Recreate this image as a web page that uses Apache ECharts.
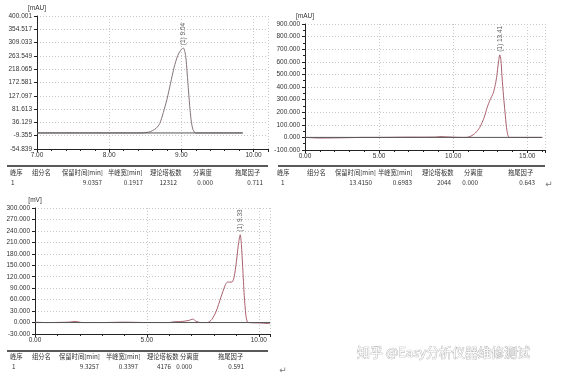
<!DOCTYPE html>
<html><head><meta charset="utf-8">
<script src="https://cdn.jsdelivr.net/npm/echarts@6/dist/echarts.min.js"></script>
<style>html,body{margin:0;padding:0;background:#fff}#c{width:568px;height:379px}</style>
</head><body><div id="c"></div>
<script>
// ---------- data ----------
const y1Ticks = [-54.839,-9.355,36.129,81.613,127.097,172.581,218.065,263.549,309.033,354.517,400.001];
const curve1 = [[7,0],[8.45,0],[8.5,1],[8.55,3],[8.6,8],[8.65,16],[8.7,32],[8.75,70],[8.8,115],[8.85,170],[8.9,225],[8.95,265],[9.0,286],[9.03,290],[9.06,262],[9.08,205],[9.1,140],[9.12,80],[9.14,35],[9.16,12],[9.18,3],[9.2,0],[9.85,0]];
const base1 = [[7,0],[9.85,0]];
const peak1 = [[9.03,290]];

const curve2 = [[0,0],[0.5,-3],[1,-5],[2,-4],[3,-2],[4,0],[5,0],[6,1],[7,2],[8,2],[8.8,3],[9.1,6],[9.4,5],[10,2],[10.5,0],[10.9,0],[11.2,10],[11.5,35],[11.8,80],[12.1,160],[12.3,240],[12.5,300],[12.7,350],[12.85,420],[12.95,490],[13.05,590],[13.15,655],[13.22,620],[13.3,480],[13.4,330],[13.5,200],[13.6,80],[13.7,15],[13.8,0],[16,0]];
const base2 = [[0,0],[16,0]];
const peak2 = [[13.15,655]];

const curve3 = [[0,1],[0.5,0],[1.5,1],[1.8,3],[2.1,0],[3,0],[4,1],[5,0],[6,0],[6.2,2],[6.6,3],[6.9,6],[7.05,9],[7.2,3],[7.4,0],[7.7,0],[7.9,8],[8.1,30],[8.3,65],[8.5,98],[8.6,106],[8.8,106],[8.9,120],[9.0,160],[9.1,210],[9.17,230],[9.22,205],[9.28,145],[9.35,70],[9.42,20],[9.48,3],[9.55,0],[10,-1],[10.5,-3]];
const base3 = [[0,0],[10.5,0]];
const peak3 = [[9.17,230]];

const peakLabels = ['(1) 9.04','(1) 13.41','(1) 9.33'];
const yUnits = ['[mAU]','[mAU]','[mV]'];

const headers = ['峰序','组分名','保留时间[min]','半峰宽[min]','理论塔板数','分离度','拖尾因子'];
const row1 = ['1','','9.0357','0.1917','12312','0.000','0.711'];
const row2 = ['1','','13.4150','0.6983','2044','0.000','0.643'];
const row3 = ['1','','9.3257','0.3397','4176','0.000','0.591'];
const watermark = '知乎 @Easy分析仪器维修测试';

// ---------- layout ----------
const tables = [
  {row:row1, line:[7,268,166], hy:173, dy:183, hx:[10,32,62,108,150,193,235], dx:[11,0,102,143,177,213,263], ret:null},
  {row:row2, line:[278,545,166], hy:173, dy:183, hx:[277,307,335,378,422,464,508], dx:[281,0,372,412,451,478,535], ret:[549,185]},
  {row:row3, line:[7,268,351], hy:357, dy:367, hx:[10,32,59,106,147,180,218], dx:[12,0,99,138,171,192,244], ret:[283,371]}
];

const labFont = 'Liberation Sans';
const axisCol = '#222';
const tblFont = '6.3px "Noto Sans CJK SC"';
function xAx(i, min, max, interval){
  return {type:'value', gridIndex:i, min, max, interval,
    axisLine:{onZero:false, lineStyle:{color:axisCol,width:1}},
    axisTick:{show:true, length:3, lineStyle:{color:axisCol}},
    minorTick:{show:true, splitNumber:5, length:2, lineStyle:{color:axisCol}},
    axisLabel:{fontSize:6.5, color:'#333', fontFamily:labFont, margin:3, formatter:v=>v.toFixed(2), showMaxLabel:false},
    splitLine:{show:true, lineStyle:{color:'#c8c8c8', type:[1,2], width:1}}};
}
function yAx(i, min, max, extra, unit){
  return Object.assign({type:'value', gridIndex:i, min, max,
    name:unit, nameLocation:'end', nameGap:4, nameTextStyle:{fontSize:6.5, color:'#333', fontFamily:labFont, align:'center', padding:[0,0,0,0]},
    axisLine:{show:true, lineStyle:{color:axisCol,width:1}},
    axisTick:{show:true, length:3, lineStyle:{color:axisCol}},
    axisLabel:{fontSize:6.5, color:'#333', fontFamily:labFont, margin:5, formatter:v=>v.toFixed(3)},
    splitLine:{show:true, lineStyle:{color:'#c8c8c8', type:[1,2], width:1}}}, extra);
}
const curveCol = '#a9606e';
function series(i, curve, base, peak, lbl, col){
  return [
    {type:'line', xAxisIndex:i, yAxisIndex:i, data:curve, showSymbol:false, smooth:0.25, lineStyle:{color:col,width:1}, silent:true, z:2},
    {type:'line', xAxisIndex:i, yAxisIndex:i, data:base, showSymbol:false, lineStyle:{color:'#555',width:1}, silent:true, z:3},
    {type:'scatter', xAxisIndex:i, yAxisIndex:i, data:peak, symbolSize:0, silent:true,
     label:{show:true, position:'top', distance:3, rotate:90, align:'left', verticalAlign:'middle', formatter:lbl, fontSize:6.5, color:'#333', fontFamily:labFont}}
  ];
}

const graphic = [];
tables.forEach(t=>{
  graphic.push({type:'line', shape:{x1:t.line[0],y1:t.line[2],x2:t.line[1],y2:t.line[2]}, style:{stroke:'#222',lineWidth:1.5}});
  headers.forEach((h,k)=>graphic.push({type:'text', x:t.hx[k], y:t.hy, style:{text:h, font:tblFont, fill:'#333', align:'left', verticalAlign:'middle'}}));
  t.row.forEach((v,k)=>{ if(!v) return; graphic.push({type:'text', x:t.dx[k], y:t.dy, style:{text:v, font:tblFont, fill:'#333', align:k===0?'left':'right', verticalAlign:'middle'}}); });
  if(t.ret) graphic.push({type:'text', x:t.ret[0], y:t.ret[1], style:{text:'↵', font:'9px "DejaVu Sans"', fill:'#777', align:'center', verticalAlign:'middle'}});
});
graphic.push({type:'text', x:357, y:352, style:{text:watermark, font:'13px "Noto Sans CJK SC"', fill:'#fafafa', stroke:'#a8a8a8', lineWidth:0.7, align:'left', verticalAlign:'middle'}});

const chart = echarts.init(document.getElementById('c'), null, {renderer:'canvas'});
chart.setOption({
  animation:false,
  backgroundColor:'#fff',
  grid:[
    {left:37, top:16, width:231, height:133},
    {left:305, top:24, width:240, height:126},
    {left:35, top:208, width:235, height:126}
  ],
  xAxis:[xAx(0,7,10.2,1), xAx(1,0,16.2,5), xAx(2,0,10.5,5)],
  yAxis:[
    yAx(0,-54.839,400.001,{axisTick:{show:true,length:3,lineStyle:{color:axisCol},customValues:y1Ticks}, axisLabel:{fontSize:6.5,color:'#333',fontFamily:labFont,margin:5,customValues:y1Ticks,formatter:v=>v.toFixed(3)}}, yUnits[0]),
    yAx(1,-100,900,{interval:100, minorTick:{show:true,splitNumber:2,length:2,lineStyle:{color:axisCol}}}, yUnits[1]),
    yAx(2,-30,300,{interval:30}, yUnits[2])
  ],
  series:[
    ...series(0,curve1,base1,peak1,peakLabels[0],'#857479'),
    ...series(1,curve2,base2,peak2,peakLabels[1],curveCol),
    ...series(2,curve3,base3,peak3,peakLabels[2],curveCol)
  ],
  graphic
});
</script></body></html>
